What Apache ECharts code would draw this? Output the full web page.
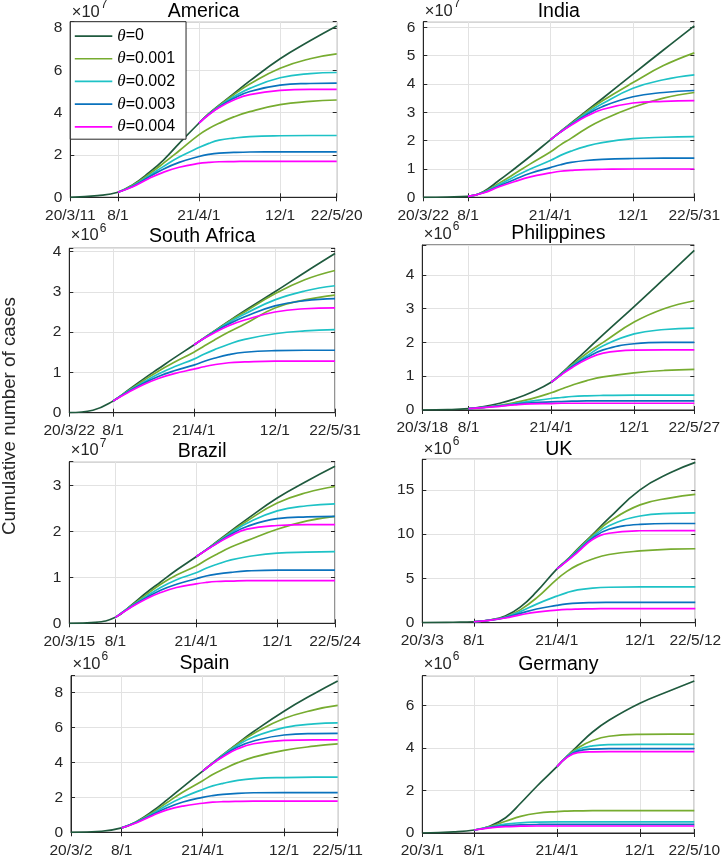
<!DOCTYPE html>
<html><head><meta charset="utf-8">
<script src="https://cdn.jsdelivr.net/npm/echarts@6/dist/echarts.min.js"></script>
<style>html,body{margin:0;padding:0;background:#fff}#c{width:722px;height:858px}</style>
</head><body><div id="c"></div>
<script>
// ---------- data ----------
const countries = ['America','India','South Africa','Philippines','Brazil','UK','Spain','Germany'];
const exponents = ['7','7','6','6','7','6','6','6'];
const startDates = ['2020-03-11','2020-03-22','2020-03-22','2020-03-18','2020-03-15','2020-03-03','2020-03-02','2020-03-01'];
const endDates   = ['2022-05-20','2022-05-31','2022-05-31','2022-05-27','2022-05-24','2022-05-12','2022-05-11','2022-05-10'];
const midTickDates = ['2020-08-01','2021-04-01','2021-12-01'];
const xTickLabels = [
  ['20/3/11','8/1','21/4/1','12/1','22/5/20'],
  ['20/3/22','8/1','21/4/1','12/1','22/5/31'],
  ['20/3/22','8/1','21/4/1','12/1','22/5/31'],
  ['20/3/18','8/1','21/4/1','12/1','22/5/27'],
  ['20/3/15','8/1','21/4/1','12/1','22/5/24'],
  ['20/3/3','8/1','21/4/1','12/1','22/5/12'],
  ['20/3/2','8/1','21/4/1','12/1','22/5/11'],
  ['20/3/1','8/1','21/4/1','12/1','22/5/10']
];
const yMax = [8.3, 6.2, 4.08, 4.88, 3.52, 18.45, 8.95, 7.4];
const yInterval = [2, 1, 1, 1, 1, 5, 2, 2];
const thetaNames = ['θ=0','θ=0.001','θ=0.002','θ=0.003','θ=0.004'];
const thetaColors = ['#1f5a3e','#77ac30','#1ec2c6','#0a72bd','#ff00ff'];
// sample dates between start and end
const sampleDates = ['2020-06-01','2020-08-01','2020-09-15','2020-11-01','2020-12-15','2021-02-01',
                     '2021-04-01','2021-05-01','2021-06-01','2021-07-15','2021-09-01','2021-12-01','2022-03-01'];
// theta=0 : [start, ...sampleDates, end]
// lower family (from 2020-08-01): [...sampleDates.slice(1), end]; order θ=0.001..0.004
// upper family (from 2021-04-01): [...sampleDates.slice(6), end]

const americaTheta0 = [0, 0.08, 0.24, 0.6, 1.15, 1.75, 2.55, 3.5, 3.95, 4.35, 4.9, 5.5, 6.55, 7.4, 8.1];
const americaLower = [
  [0.24, 0.58, 1.08, 1.6, 2.2, 2.95, 3.25, 3.5, 3.8, 4.05, 4.38, 4.53, 4.6],
  [0.24, 0.55, 1.0, 1.45, 1.9, 2.35, 2.55, 2.7, 2.8, 2.87, 2.91, 2.92, 2.92],
  [0.24, 0.52, 0.95, 1.33, 1.65, 1.93, 2.03, 2.09, 2.12, 2.14, 2.15, 2.15, 2.15],
  [0.24, 0.5, 0.88, 1.18, 1.42, 1.6, 1.65, 1.68, 1.69, 1.7, 1.7, 1.7, 1.7]
];
const americaUpper = [
  [3.5, 3.95, 4.33, 4.85, 5.35, 6.1, 6.55, 6.78],
  [3.5, 3.93, 4.3, 4.75, 5.15, 5.65, 5.85, 5.9],
  [3.5, 3.92, 4.27, 4.68, 5.0, 5.3, 5.38, 5.4],
  [3.5, 3.9, 4.24, 4.6, 4.85, 5.05, 5.1, 5.1]
];

const indiaTheta0 = [0, 0.01, 0.03, 0.2, 0.6, 1.0, 1.45, 2.03, 2.32, 2.62, 3.03, 3.48, 4.35, 5.2, 6.05];
const indiaLower = [
  [0.03, 0.18, 0.5, 0.82, 1.18, 1.6, 1.85, 2.08, 2.42, 2.73, 3.18, 3.5, 3.7],
  [0.03, 0.17, 0.45, 0.72, 1.0, 1.3, 1.48, 1.63, 1.8, 1.93, 2.07, 2.12, 2.14],
  [0.03, 0.16, 0.4, 0.62, 0.85, 1.05, 1.15, 1.23, 1.3, 1.34, 1.37, 1.38, 1.38],
  [0.03, 0.15, 0.37, 0.55, 0.72, 0.86, 0.92, 0.95, 0.98, 0.99, 1.0, 1.0, 1.0]
];
const indiaUpper = [
  [2.03, 2.32, 2.6, 3.0, 3.4, 4.05, 4.65, 5.1],
  [2.03, 2.31, 2.58, 2.95, 3.3, 3.85, 4.15, 4.32],
  [2.03, 2.3, 2.56, 2.9, 3.2, 3.55, 3.7, 3.77],
  [2.03, 2.3, 2.54, 2.85, 3.1, 3.33, 3.39, 3.41]
];

const southAfricaTheta0 = [0, 0.06, 0.29, 0.56, 0.84, 1.09, 1.36, 1.68, 1.85, 2.02, 2.27, 2.53, 3.0, 3.48, 3.95];
const southAfricaLower = [
  [0.29, 0.54, 0.8, 1.03, 1.25, 1.5, 1.65, 1.8, 2.0, 2.2, 2.6, 2.8, 2.92],
  [0.29, 0.53, 0.76, 0.96, 1.14, 1.33, 1.45, 1.56, 1.7, 1.82, 1.96, 2.03, 2.06],
  [0.29, 0.52, 0.73, 0.9, 1.04, 1.18, 1.27, 1.35, 1.44, 1.5, 1.54, 1.55, 1.55],
  [0.29, 0.5, 0.7, 0.85, 0.97, 1.08, 1.14, 1.19, 1.24, 1.26, 1.28, 1.28, 1.28]
];
const southAfricaUpper = [
  [1.68, 1.85, 2.02, 2.26, 2.5, 2.95, 3.3, 3.53],
  [1.68, 1.85, 2.01, 2.24, 2.45, 2.8, 3.02, 3.15],
  [1.68, 1.84, 2.0, 2.2, 2.38, 2.65, 2.78, 2.83],
  [1.68, 1.84, 1.98, 2.16, 2.3, 2.5, 2.58, 2.6]
];

const philippinesTheta0 = [0, 0.01, 0.04, 0.1, 0.2, 0.33, 0.52, 0.82, 1.08, 1.37, 1.78, 2.23, 3.06, 3.9, 4.72];
const philippinesLower = [
  [0.04, 0.08, 0.14, 0.22, 0.33, 0.51, 0.62, 0.73, 0.87, 0.98, 1.1, 1.17, 1.2],
  [0.04, 0.08, 0.13, 0.19, 0.26, 0.34, 0.37, 0.4, 0.42, 0.43, 0.44, 0.44, 0.44],
  [0.04, 0.08, 0.12, 0.17, 0.21, 0.24, 0.25, 0.26, 0.27, 0.27, 0.27, 0.27, 0.27],
  [0.04, 0.07, 0.11, 0.15, 0.18, 0.19, 0.2, 0.2, 0.2, 0.2, 0.2, 0.2, 0.2]
];
const philippinesUpper = [
  [0.82, 1.07, 1.33, 1.68, 2.0, 2.6, 3.0, 3.23],
  [0.82, 1.06, 1.3, 1.6, 1.9, 2.25, 2.38, 2.42],
  [0.82, 1.05, 1.28, 1.55, 1.78, 1.96, 2.0, 2.0],
  [0.82, 1.04, 1.25, 1.5, 1.68, 1.77, 1.78, 1.78]
];

const brazilTheta0 = [0, 0.02, 0.13, 0.38, 0.66, 0.9, 1.16, 1.45, 1.6, 1.77, 2.01, 2.27, 2.73, 3.1, 3.42];
const brazilLower = [
  [0.13, 0.37, 0.62, 0.85, 1.05, 1.25, 1.38, 1.5, 1.66, 1.8, 2.05, 2.23, 2.33],
  [0.13, 0.36, 0.58, 0.78, 0.95, 1.1, 1.2, 1.28, 1.38, 1.45, 1.53, 1.55, 1.56],
  [0.13, 0.35, 0.55, 0.72, 0.85, 0.97, 1.03, 1.07, 1.11, 1.14, 1.16, 1.16, 1.16],
  [0.13, 0.34, 0.53, 0.67, 0.78, 0.86, 0.89, 0.91, 0.92, 0.93, 0.93, 0.93, 0.93]
];
const brazilUpper = [
  [1.45, 1.6, 1.76, 1.99, 2.23, 2.62, 2.85, 2.98],
  [1.45, 1.6, 1.75, 1.97, 2.18, 2.45, 2.56, 2.6],
  [1.45, 1.6, 1.74, 1.94, 2.11, 2.28, 2.32, 2.33],
  [1.45, 1.59, 1.73, 1.91, 2.05, 2.13, 2.15, 2.15]
];

const ukTheta0 = [0, 0.05, 0.11, 0.3, 0.75, 1.75, 3.5, 6.05, 7.1, 8.3, 9.95, 11.8, 15.0, 16.95, 18.1];
const ukLower = [
  [0.11, 0.28, 0.65, 1.45, 2.8, 4.9, 5.8, 6.5, 7.2, 7.7, 8.1, 8.3, 8.35],
  [0.11, 0.28, 0.62, 1.25, 2.1, 3.0, 3.4, 3.7, 3.9, 4.0, 4.05, 4.05, 4.05],
  [0.11, 0.27, 0.58, 1.05, 1.55, 1.95, 2.12, 2.22, 2.27, 2.29, 2.3, 2.3, 2.3],
  [0.11, 0.26, 0.53, 0.88, 1.2, 1.42, 1.5, 1.54, 1.57, 1.58, 1.58, 1.58, 1.58]
];
const ukUpper = [
  [6.05, 7.1, 8.25, 9.85, 11.4, 13.3, 14.1, 14.5],
  [6.05, 7.05, 8.15, 9.7, 10.95, 12.05, 12.35, 12.4],
  [6.05, 7.0, 8.05, 9.55, 10.55, 11.1, 11.2, 11.2],
  [6.05, 6.95, 7.95, 9.4, 10.1, 10.38, 10.4, 10.4]
];

const spainTheta0 = [0, 0.06, 0.25, 0.62, 1.2, 1.85, 2.6, 3.5, 3.96, 4.43, 5.08, 5.76, 6.92, 7.92, 8.65];
const spainLower = [
  [0.25, 0.6, 1.12, 1.7, 2.3, 2.95, 3.3, 3.6, 3.98, 4.3, 4.68, 4.92, 5.05],
  [0.25, 0.59, 1.06, 1.55, 2.0, 2.45, 2.65, 2.8, 2.97, 3.07, 3.13, 3.15, 3.15],
  [0.25, 0.57, 1.0, 1.4, 1.73, 2.0, 2.1, 2.17, 2.23, 2.26, 2.27, 2.27, 2.27],
  [0.25, 0.55, 0.95, 1.28, 1.5, 1.66, 1.72, 1.75, 1.77, 1.78, 1.78, 1.78, 1.78]
];
const spainUpper = [
  [3.5, 3.96, 4.43, 5.05, 5.65, 6.5, 7.0, 7.25],
  [3.5, 3.95, 4.4, 4.98, 5.45, 5.98, 6.2, 6.25],
  [3.5, 3.94, 4.36, 4.88, 5.22, 5.56, 5.64, 5.65],
  [3.5, 3.93, 4.32, 4.77, 5.06, 5.25, 5.28, 5.28]
];

const germanyTheta0 = [0, 0.05, 0.14, 0.32, 0.72, 1.4, 2.2, 3.12, 3.62, 4.1, 4.75, 5.3, 6.1, 6.7, 7.15];
const germanyLower = [
  [0.14, 0.3, 0.55, 0.78, 0.93, 1.01, 1.03, 1.04, 1.05, 1.05, 1.05, 1.05, 1.05],
  [0.14, 0.28, 0.42, 0.48, 0.51, 0.52, 0.52, 0.52, 0.52, 0.52, 0.52, 0.52, 0.52],
  [0.14, 0.26, 0.35, 0.38, 0.4, 0.41, 0.41, 0.41, 0.41, 0.41, 0.41, 0.41, 0.41],
  [0.14, 0.24, 0.3, 0.32, 0.33, 0.33, 0.33, 0.33, 0.33, 0.33, 0.33, 0.33, 0.33]
];
const germanyUpper = [
  [3.12, 3.62, 4.0, 4.35, 4.55, 4.64, 4.65, 4.65],
  [3.12, 3.6, 3.92, 4.1, 4.16, 4.17, 4.17, 4.17],
  [3.12, 3.58, 3.85, 3.95, 3.97, 3.97, 3.97, 3.97],
  [3.12, 3.56, 3.78, 3.82, 3.83, 3.83, 3.83, 3.83]
];

const theta0Data = [americaTheta0, indiaTheta0, southAfricaTheta0, philippinesTheta0, brazilTheta0, ukTheta0, spainTheta0, germanyTheta0];
const lowerData = [americaLower, indiaLower, southAfricaLower, philippinesLower, brazilLower, ukLower, spainLower, germanyLower];
const upperData = [americaUpper, indiaUpper, southAfricaUpper, philippinesUpper, brazilUpper, ukUpper, spainUpper, germanyUpper];

// ---------- layout (pixels) ----------
const gridBoxes = [
  [70.3, 21.7, 266.4, 175.6], [423.3, 21.7, 271, 175.6],
  [69.3, 248.3, 265.7, 164.4], [422.3, 245, 272, 165],
  [69.3, 461.7, 265.7, 161.6], [422.3, 459.3, 273, 163.4],
  [71, 675.7, 266.7, 156.6], [422.3, 675.7, 272, 157.3]
];
const titleBaselines = [18.3, 18.3, 243.3, 240, 458.3, 456.7, 670, 671];
const expBaselines = [18.3, 17.3, 241.7, 240, 456.7, 455, 670, 670];

const FONT = '"Liberation Sans", Arial, Helvetica, sans-serif';
const AX = '#262626';
const GRIDC = '#e2e2e2';
const LW = 1.7;
const day = s => { const p = s.split('-').map(Number); return Date.UTC(p[0], p[1]-1, p[2]) / 86400000; };
const pairs = (dates, vals) => vals.map((v, k) => [day(dates[k]), v]);

const grids = [], xAxes = [], yAxes = [], series = [], graphics = [];
countries.forEach((name, i) => {
  const [l, t, w, h] = gridBoxes[i];
  grids.push({left: l, top: t, width: w, height: h, show: true, borderColor: AX, borderWidth: 1,
              backgroundColor: '#fff', containLabel: false, outerBoundsMode: 'none'});
  const tickVals = [startDates[i], ...midTickDates, endDates[i]].map(day);
  const labels = xTickLabels[i];
  const xmin = day(startDates[i]), xmax = day(endDates[i]);
  xAxes.push({
    type: 'value', gridIndex: i, min: xmin, max: xmax,
    axisLine: {show: true, onZero: false, lineStyle: {color: AX, width: 1}},
    axisTick: {show: true, inside: true, length: 4, customValues: tickVals, lineStyle: {color: AX}},
    axisLabel: {customValues: tickVals, margin: 10, color: AX, fontSize: 15.5, fontFamily: FONT,
      formatter: v => { const k = tickVals.findIndex(tv => Math.abs(tv - v) < 0.5); return k >= 0 ? labels[k] : ''; }},
    splitLine: {show: true, lineStyle: {color: GRIDC, width: 1}}
  });
  xAxes.push({
    type: 'value', gridIndex: i, position: 'top', min: xmin, max: xmax,
    axisLine: {show: false},
    axisTick: {show: true, inside: true, length: 4, customValues: tickVals, lineStyle: {color: AX}},
    axisLabel: {show: false}, splitLine: {show: false}
  });
  const iv = yInterval[i];
  yAxes.push({
    type: 'value', gridIndex: i, min: 0, max: yMax[i], interval: iv,
    axisLine: {show: true, onZero: false, lineStyle: {color: AX, width: 1}},
    axisTick: {show: true, inside: true, length: 4, lineStyle: {color: AX}},
    axisLabel: {margin: 8, color: AX, fontSize: 15.5, fontFamily: FONT,
      formatter: v => Math.abs(v / iv - Math.round(v / iv)) < 1e-6 ? String(Math.round(v)) : ''},
    splitLine: {show: true, lineStyle: {color: GRIDC, width: 1}}
  });
  yAxes.push({
    type: 'value', gridIndex: i, position: 'right', min: 0, max: yMax[i], interval: iv,
    axisLine: {show: false},
    axisTick: {show: true, inside: true, length: 4, lineStyle: {color: AX}},
    axisLabel: {show: false}, splitLine: {show: false}
  });

  const fullDates = [startDates[i], ...sampleDates, endDates[i]];
  const lowDates = [...sampleDates.slice(1), endDates[i]];
  const upDates = [...sampleDates.slice(6), endDates[i]];
  const base = {type: 'line', xAxisIndex: 2 * i, yAxisIndex: 2 * i, symbol: 'none', showSymbol: false,
                smooth: 0.45, animation: false, silent: true};
  series.push(Object.assign({}, base, {name: thetaNames[0], data: pairs(fullDates, theta0Data[i]),
              lineStyle: {color: thetaColors[0], width: LW}, itemStyle: {color: thetaColors[0]}}));
  for (let k = 0; k < 4; k++) {
    const c = thetaColors[k + 1];
    series.push(Object.assign({}, base, {name: thetaNames[k + 1], data: pairs(lowDates, lowerData[i][k]),
                lineStyle: {color: c, width: LW}, itemStyle: {color: c}}));
    series.push(Object.assign({}, base, {name: thetaNames[k + 1], data: pairs(upDates, upperData[i][k]),
                lineStyle: {color: c, width: LW}, itemStyle: {color: c}}));
  }

  // title
  graphics.push({type: 'text', x: l + w / 2, y: titleBaselines[i] - 6.8, z: 100,
    style: {text: name, font: '19.5px ' + FONT, fill: '#000', align: 'center', verticalAlign: 'middle'}});
  // x10^n
  graphics.push({type: 'text', x: l + 1.5, y: expBaselines[i] - 5.8, z: 100,
    style: {text: '×10', font: '16.5px ' + FONT, fill: AX, align: 'left', verticalAlign: 'middle'}});
  graphics.push({type: 'text', x: l + 30.5, y: expBaselines[i] - 13.5, z: 100,
    style: {text: exponents[i], font: '12px ' + FONT, fill: AX, align: 'left', verticalAlign: 'middle'}});
});

graphics.push({type: 'text', x: 9.5, y: 416, rotation: Math.PI / 2, z: 100,
  style: {text: 'Cumulative number of cases', font: '18.8px ' + FONT, fill: AX, align: 'center', verticalAlign: 'middle'}});

const chart = echarts.init(document.getElementById('c'), null, {renderer: 'canvas'});
chart.setOption({
  animation: false,
  backgroundColor: '#fff',
  grid: grids, xAxis: xAxes, yAxis: yAxes, series: series, graphic: graphics,
  legend: {
    data: thetaNames, left: 70.3, top: 21.7, orient: 'vertical', selectedMode: false,
    icon: 'rect',
    backgroundColor: '#fff', borderColor: AX, borderWidth: 1, borderRadius: 0,
    padding: [3, 11, 1, 4.5], itemGap: 0, itemWidth: 37.5, itemHeight: 1.7, z: 50,
    formatter: n => '{t|θ}{n|' + n.slice(1) + '}',
    textStyle: {color: '#000', fontSize: 16, fontFamily: FONT, lineHeight: 22.7,
      rich: {t: {fontSize: 17, fontStyle: 'italic', fontFamily: '"Liberation Serif", "Times New Roman", serif', color: '#000', lineHeight: 22.7},
             n: {fontSize: 16, fontFamily: FONT, color: '#000', lineHeight: 22.7}}}
  }
});
</script></body></html>
